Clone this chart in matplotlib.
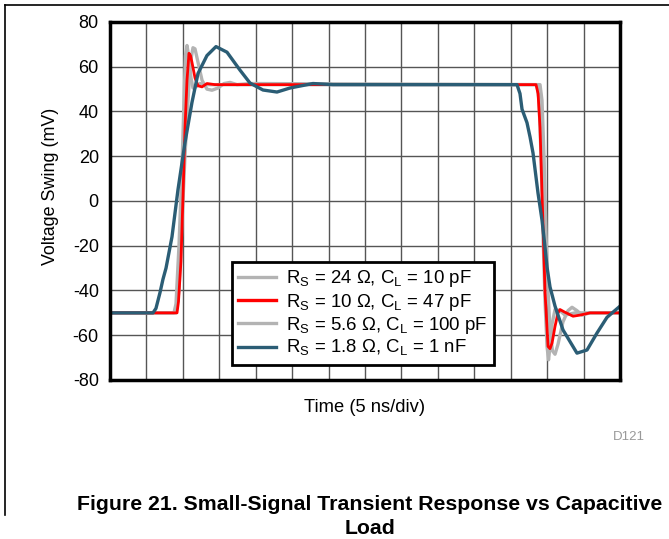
import matplotlib
matplotlib.use("Agg")
import matplotlib.pyplot as plt
from matplotlib.lines import Line2D

plt.rcParams['font.family'] = ['Liberation Sans', 'DejaVu Sans']
plt.rcParams['mathtext.fontset'] = 'custom'
plt.rcParams['mathtext.rm'] = 'Liberation Sans'
plt.rcParams['axes.unicode_minus'] = False

# Time in ns (5 ns/div), voltage in mV
t_24 = [0, 8.78, 9.06, 9.47, 9.88, 10.16, 10.36, 10.57, 10.84, 11.12, 11.39, 11.80, 12.35, 13.04,
        58.61, 58.88, 59.16, 59.43, 59.71, 59.98, 60.19, 60.39, 60.67, 61.08, 61.76, 62.45, 63.82, 70]
v_24 = [-50, -50, -46, -20, 15, 45, 65, 69.5, 64, 55, 50.5, 51, 52.5, 52,
        52, 45, 20, -15, -45, -65, -71, -65, -55, -48.5, -49, -51, -50, -50]

t_10 = [0, 9.2, 9.4, 9.74, 10.02, 10.29, 10.57, 10.84, 11.05, 11.25, 11.67, 12.08, 12.63, 13.31, 14.41,
        58.47, 58.75, 59.02, 59.29, 59.71, 60.12, 60.39, 60.67, 61.08, 61.49, 61.76, 62.31, 63.55, 64.51, 65.88, 70]
v_10 = [-50, -50, -45, -27, 2, 32, 54, 66, 65, 62, 55, 51.5, 51, 52.5, 52,
        52, 48, 33, 4, -41, -65, -66, -63.5, -56, -50, -48.5, -49.5, -51.5, -51, -50, -50]

t_56 = [0, 9.06, 9.47, 9.88, 10.29, 10.71, 11.05, 11.39, 11.67, 12.08, 12.63, 13.31, 14.0, 14.82, 15.65,
        16.47, 17.43, 19.22, 59.02, 59.29, 59.57, 59.84, 60.12, 60.39, 60.73, 61.08, 61.49, 62.17, 62.86,
        63.41, 64.09, 64.78, 65.88, 70]
v_56 = [-50, -50, -40, -10, 20, 45, 62, 68.5, 68, 62, 54, 50, 49.5, 50.5, 52.5,
        53, 52, 52.5, 52, 45, 20, -15, -40, -58, -67, -68.5, -64, -54, -49,
        -47.5, -49, -51, -50, -50]

t_18 = [0, 5.9, 6.31, 6.86, 7.27, 7.69, 8.51, 9.33, 10.29, 11.25, 12.08, 13.31, 14.55, 16.06, 17.84,
        19.22, 21.0, 22.92, 24.71, 27.86, 30.61, 55.86, 56.27, 56.55, 57.23, 57.65, 58.06, 58.74, 59.29,
        59.7, 59.98, 60.39, 61.08, 62.17, 64.09, 65.47, 66.84, 68.21, 70]
v_18 = [-50, -50, -48, -41, -35, -30, -16, 5, 26, 44, 57, 65, 69, 66.5, 58.5,
        52.7, 49.6, 48.7, 50.5, 52.5, 52, 52, 48, 41, 35, 28.6, 21.4, 3.6, -8.5,
        -20.5, -29.5, -38.4, -47, -57.6, -68, -66.6, -59, -52, -47]

labels = [r'R$_\mathregular{S}$ = 24 Ω, C$_\mathregular{L}$ = 10 pF',
          r'R$_\mathregular{S}$ = 10 Ω, C$_\mathregular{L}$ = 47 pF',
          r'R$_\mathregular{S}$ = 5.6 Ω, C$_\mathregular{L}$ = 100 pF',
          r'R$_\mathregular{S}$ = 1.8 Ω, C$_\mathregular{L}$ = 1 nF']
colors = ['#b3b3b3', '#ff0000', '#b3b3b3', '#2b5d75']

fig = plt.figure(figsize=(6.69, 5.39), dpi=100)
ax = fig.add_axes([0.1644, 0.295, 0.7624, 0.6642])

ax.plot(t_56, v_56, color=colors[2], lw=2.4, zorder=3)
ax.plot(t_24, v_24, color=colors[0], lw=2.4, zorder=3)
ax.plot(t_10, v_10, color=colors[1], lw=2.0, zorder=4)
ax.plot(t_18, v_18, color=colors[3], lw=2.4, zorder=5)

ax.set_xlim(0, 70)
ax.set_ylim(-80, 80)
ax.set_xticks(range(0, 71, 5))
ax.set_xticklabels([])
ax.set_yticks(range(-80, 81, 20))
ax.tick_params(axis='both', length=0, labelsize=13, pad=8)
ax.grid(True, color='#555555', lw=1.0)
for s in ax.spines.values():
    s.set_linewidth(2.5)
    s.set_zorder(6)

ax.set_xlabel('Time (5 ns/div)', fontsize=13.2, labelpad=6)
ax.set_ylabel('Voltage Swing (mV)', fontsize=12.9)
ax.yaxis.set_label_coords(-0.1, 0.542)

handles = [Line2D([], [], color=c, lw=2.4) for c in colors]
leg = ax.legend(handles, labels, loc='upper left', bbox_to_anchor=(0.239, 0.33),
                borderaxespad=0, fontsize=13.4, fancybox=False, framealpha=1,
                edgecolor='black', handlelength=2.0, handletextpad=0.55,
                labelspacing=0.12, borderpad=0.35)
leg.get_frame().set_linewidth(2.0)
leg.set_zorder(7)

fig.text(645 / 669, 1 - 437 / 539, 'D121', color='#999999', fontsize=9.5, ha='right', va='center')
fig.text(370 / 669, 1 - 504 / 539, 'Figure 21. Small-Signal Transient Response vs Capacitive',
         fontsize=15.3, fontweight='bold', ha='center', va='center')
fig.text(370 / 669, 1 - 528 / 539, 'Load', fontsize=15.3, fontweight='bold', ha='center', va='center')

# page frame lines
fig.add_artist(Line2D([5 / 669, 1], [1 - 5 / 539, 1 - 5 / 539], color='black', lw=1.2))
fig.add_artist(Line2D([5 / 669, 5 / 669], [1 - 5 / 539, 1 - 515 / 539], color='black', lw=1.2))

fig.savefig('out.png', dpi=100)
